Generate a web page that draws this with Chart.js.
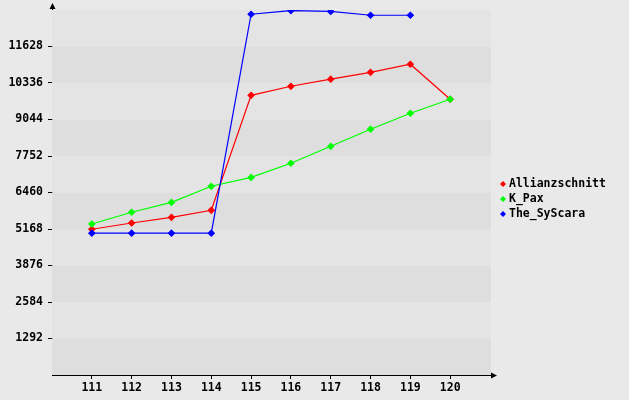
<!DOCTYPE html>
<html>
<head>
<meta charset="utf-8">
<script src="https://cdn.jsdelivr.net/npm/chart.js@4/dist/chart.umd.min.js"></script>
<style>
html,body{margin:0;padding:0;background:#e9e9e9;}
#wrap{width:629px;height:400px;position:relative;}
</style>
</head>
<body>
<div id="wrap"><canvas id="c" width="629" height="400"></canvas></div>
<script>
const categories = [111, 112, 113, 114, 115, 116, 117, 118, 119, 120];
const seriesNames = ["Allianzschnitt", "K_Pax", "The_SyScara"];
const allianzschnitt = [5160, 5380, 5580, 5830, 9900, 10220, 10470, 10715, 11000, 9760];
const kPax = [5345, 5760, 6110, 6680, 6995, 7495, 8095, 8700, 9265, 9760];
const theSyScara = [5020, 5020, 5020, 5020, 12770, 12900, 12870, 12735, 12735, null];
const yTicks = [1292, 2584, 3876, 5168, 6460, 7752, 9044, 10336, 11628];
const yMax = 12920;
const yStep = 1292;
const colors = ["#ff0000", "#00ff00", "#0000ff"];

const FONT = "'DejaVu Sans Mono', monospace";
const FSIZE = 11.5;

function pts(arr){ return categories.map((c,i)=>({x:c, y:arr[i]})); }

const bandsPlugin = {
  id: 'bands',
  beforeDatasetsDraw(chart){
    const {ctx, chartArea:a, scales:{y}} = chart;
    ctx.save();
    for (let v = 0, k = 0; v < yMax; v += yStep, k++) {
      const top = y.getPixelForValue(v + yStep), bot = y.getPixelForValue(v);
      ctx.fillStyle = (k % 2 === 0) ? '#dedede' : '#e4e4e4';
      ctx.fillRect(a.left, top, a.right - a.left + 1, bot - top);
    }
    ctx.restore();
  },
  afterDraw(chart){
    const {ctx, chartArea:a} = chart;
    ctx.save();
    ctx.strokeStyle = '#000'; ctx.fillStyle = '#000'; ctx.lineWidth = 1;
    ctx.beginPath(); ctx.moveTo(a.left + 0.5, a.top); ctx.lineTo(a.left + 0.5, 5); ctx.stroke();
    ctx.beginPath(); ctx.moveTo(a.left + 0.5, 3); ctx.lineTo(a.left - 2.5, 9); ctx.lineTo(a.left + 3.5, 9); ctx.closePath(); ctx.fill();
    ctx.beginPath(); ctx.moveTo(a.right, a.bottom + 0.5); ctx.lineTo(495, a.bottom + 0.5); ctx.stroke();
    ctx.beginPath(); ctx.moveTo(497, a.bottom + 0.5); ctx.lineTo(491, a.bottom - 2.5); ctx.lineTo(491, a.bottom + 3.5); ctx.closePath(); ctx.fill();
    ctx.font = "bold " + FSIZE + "px " + FONT;
    ctx.textBaseline = 'middle';
    chart.data.datasets.forEach((ds, i) => {
      const yy = 184 + i * 15;
      ctx.fillStyle = ds.borderColor;
      ctx.beginPath(); ctx.moveTo(503, yy - 3); ctx.lineTo(506, yy); ctx.lineTo(503, yy + 3); ctx.lineTo(500, yy); ctx.closePath(); ctx.fill();
      ctx.fillStyle = '#000';
      ctx.fillText(ds.label, 509, yy);
    });
    ctx.restore();
  }
};

const datasets = [allianzschnitt, kPax, theSyScara].map((arr, i) => ({
  label: seriesNames[i],
  data: pts(arr),
  borderColor: colors[i],
  backgroundColor: colors[i],
  borderWidth: 1.2,
  pointStyle: 'rectRot',
  pointRadius: 3,
  pointHoverRadius: 3,
  tension: 0,
  spanGaps: false,
  order: 2 - i
}));

new Chart(document.getElementById('c'), {
  type: 'line',
  data: { datasets },
  options: {
    responsive: false,
    animation: false,
    events: [],
    layout: { padding: { top: 10, right: 139, left: 0, bottom: 0 } },
    plugins: { legend: { display: false }, tooltip: { enabled: false } },
    scales: {
      x: {
        type: 'linear', min: 110, max: 121,
        afterFit(s){ s.height = 25; s.paddingLeft = 0; s.paddingRight = 0; },
        border: { display: true, color: '#000', width: 1 },
        grid: { drawOnChartArea: false, tickLength: 4,
          tickColor: (c) => (c.tick && (c.tick.value === 110 || c.tick.value === 121)) ? 'rgba(0,0,0,0)' : '#000' },
        afterBuildTicks(s){ s.ticks = [110].concat(categories, [121]).map(v => ({value: v})); },
        ticks: { color: '#000', padding: 2, maxRotation: 0, autoSkip: false,
          font: { family: FONT, size: FSIZE, weight: 'bold' },
          callback: (v) => categories.includes(v) ? String(v) : '' }
      },
      y: {
        type: 'linear', min: 0, max: yMax,
        afterFit(s){ s.width = 52; s.paddingTop = 0; s.paddingBottom = 0; },
        border: { display: true, color: '#000', width: 1 },
        grid: { drawOnChartArea: false, tickLength: 4,
          tickColor: (c) => (c.tick && yTicks.includes(c.tick.value)) ? '#000' : 'rgba(0,0,0,0)' },
        afterBuildTicks(s){ s.ticks = [0].concat(yTicks, [yMax]).map(v => ({value: v})); },
        ticks: { color: '#000', padding: 5, autoSkip: false,
          font: { family: FONT, size: FSIZE, weight: 'bold' },
          callback: (v) => yTicks.includes(v) ? String(v) : '' }
      }
    }
  },
  plugins: [bandsPlugin]
});
</script>
</body>
</html>
